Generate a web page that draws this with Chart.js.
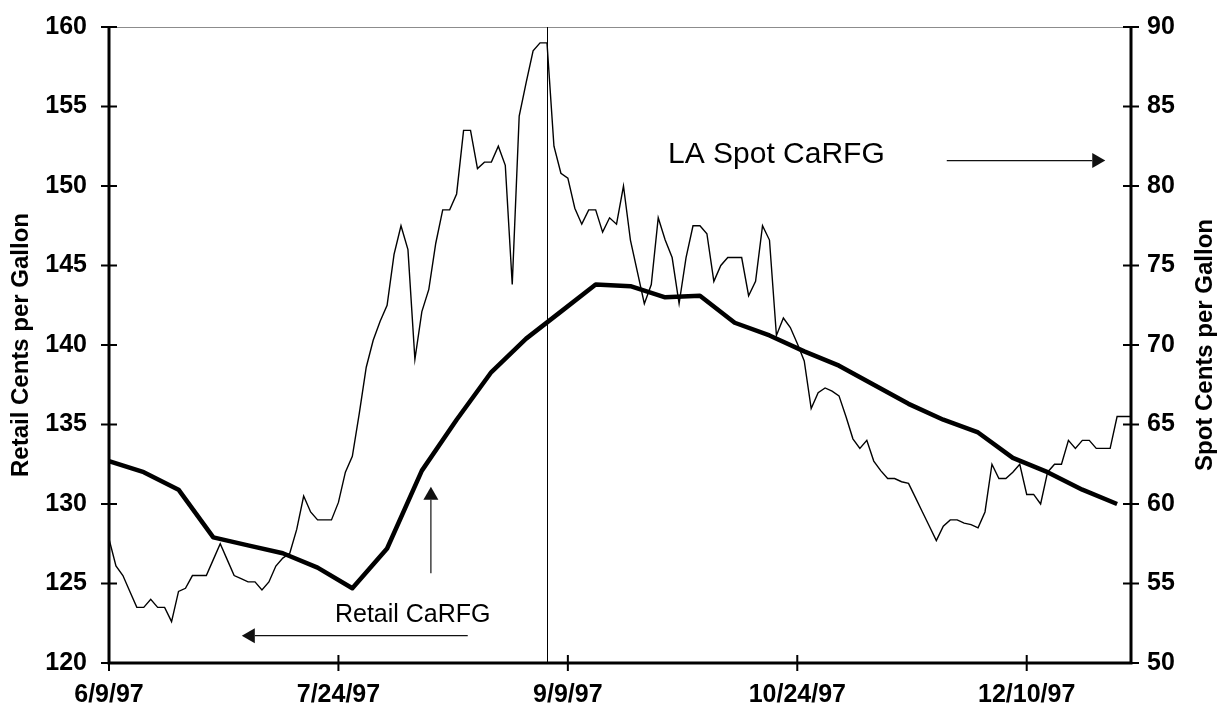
<!DOCTYPE html>
<html>
<head>
<meta charset="utf-8">
<title>CaRFG retail vs LA spot</title>
<script src="https://cdn.jsdelivr.net/npm/chart.js@4.4.0/dist/chart.umd.min.js"></script>
<style>
    html, body { margin: 0; padding: 0; background: #fff; }
    canvas { display: block; }
</style>
</head>
<body>
<canvas id="grafico" width="1222" height="713"></canvas>
<script>
// x axis = trading day index, 6/9/97 .. 12/31/97
const tickLabels = ['6/9/97', '7/24/97', '9/9/97', '10/24/97', '12/10/97'];
const tickIdx = [0, 33, 66, 99, 132];
const lastIdx = 147;

// LA spot CaRFG, cents per gallon (right axis), one value per trading day
const spotValues = [
    57.8, 56.1, 55.5, 54.5, 53.5, 53.5, 54.0, 53.5, 53.5, 52.6,
    54.5, 54.7, 55.5, 55.5, 55.5, 56.5, 57.5, 56.5, 55.5, 55.3,
    55.1, 55.1, 54.6, 55.1, 56.1, 56.6, 56.9, 58.4, 60.5, 59.5,
    59.0, 59.0, 59.0, 60.1, 62.0, 63.0, 65.7, 68.6, 70.3, 71.5,
    72.5, 75.7, 77.5, 76.0, 69.1, 72.1, 73.5, 76.4, 78.5, 78.5,
    79.5, 83.5, 83.5, 81.1, 81.5, 81.5, 82.5, 81.3, 73.8, 84.4,
    86.5, 88.5, 89.0, 89.0, 82.5, 80.8, 80.5, 78.6, 77.6, 78.5,
    78.5, 77.1, 78.0, 77.6, 80.0, 76.6, 74.6, 72.6, 73.8, 78.0,
    76.6, 75.5, 72.6, 75.5, 77.5, 77.5, 77.0, 74.0, 75.0, 75.5,
    75.5, 75.5, 73.1, 74.0, 77.5, 76.6, 70.6, 71.7, 71.1, 70.1,
    69.0, 66.0, 67.0, 67.3, 67.1, 66.8, 65.5, 64.1, 63.5, 64.0,
    62.7, 62.1, 61.6, 61.6, 61.4, 61.3, 60.4, 59.5, 58.6, 57.7,
    58.6, 59.0, 59.0, 58.8, 58.7, 58.5, 59.5, 62.5, 61.6, 61.6,
    62.0, 62.5, 60.6, 60.6, 60.0, 62.0, 62.5, 62.5, 64.0, 63.5,
    64.0, 64.0, 63.5, 63.5, 63.5, 65.5, 65.5, 65.5
];

// retail CaRFG, cents per gallon (left axis), weekly (Mondays)
const retailIdx = [
    0, 5, 10, 15, 20, 25, 30, 35, 40, 45,
    50, 55, 60, 65, 70, 75, 80, 85, 90, 95,
    100, 105, 110, 115, 120, 125, 130, 135, 140, 145
];
const retailValues = [
    132.7, 132.0, 130.9, 127.9, 127.4, 126.9, 126.0, 124.7, 127.2, 132.1,
    135.3, 138.3, 140.4, 142.1, 143.8, 143.7, 143.0, 143.1, 141.4, 140.6,
    139.6, 138.7, 137.5, 136.3, 135.3, 134.5, 132.9, 132.0, 130.9, 130.0
];

const markerIdx = 63; // vertical line

const FONT = "'Liberation Sans', Arial, sans-serif";

// text + arrows, in data units (x = day index, y on the named axis)
const notes = [
    { text: 'LA Spot CaRFG', x: 80.4, y: 81.45, axis: 'y2', size: 30 },
    { text: 'Retail CaRFG', x: 32.5, y: 122.58, axis: 'y', size: 25 }
];
const arrows = [
    { x1: 120.5, y1: 81.6, x2: 143.3, y2: 81.6, axis: 'y2' },
    { x1: 51.6, y1: 121.72, x2: 19.1, y2: 121.72, axis: 'y' },
    { x1: 46.3, y1: 125.64, x2: 46.3, y2: 131.09, axis: 'y' }
];

const spotData = spotValues.map(function (v, i) { return { x: i, y: v }; });
const retailData = retailIdx.map(function (d, i) { return { x: d, y: retailValues[i] }; });

function drawArrow(ctx, ax, ay, bx, by) {
    const ang = Math.atan2(by - ay, bx - ax);
    const head = 13, half = 7.5;
    ctx.beginPath();
    ctx.moveTo(ax, ay);
    ctx.lineTo(bx - Math.cos(ang) * head, by - Math.sin(ang) * head);
    ctx.stroke();
    ctx.beginPath();
    ctx.moveTo(bx, by);
    ctx.lineTo(bx - Math.cos(ang) * head - Math.sin(ang) * half, by - Math.sin(ang) * head + Math.cos(ang) * half);
    ctx.lineTo(bx - Math.cos(ang) * head + Math.sin(ang) * half, by - Math.sin(ang) * head - Math.cos(ang) * half);
    ctx.closePath();
    ctx.fill();
}

// the tick padding would otherwise push the plot top down
function fitVertical(width) {
    return function (s) {
        s.width = width;
        s.paddingTop = 0;
        s.paddingBottom = 0;
    };
}

const decor = {
    id: 'decor',
    beforeDatasetsDraw(chart) {
        const ctx = chart.ctx;
        const a = chart.chartArea;
        const xs = chart.scales.x;
        ctx.save();
        // top border
        ctx.strokeStyle = '#8c8c8c';
        ctx.lineWidth = 1;
        ctx.beginPath();
        ctx.moveTo(a.left, a.top + 0.5);
        ctx.lineTo(a.right, a.top + 0.5);
        ctx.stroke();
        // vertical marker
        const mx = Math.round(xs.getPixelForValue(markerIdx)) + 0.5;
        ctx.strokeStyle = '#000';
        ctx.beginPath();
        ctx.moveTo(mx, a.top);
        ctx.lineTo(mx, a.bottom);
        ctx.stroke();
        ctx.restore();
    },
    afterDraw(chart) {
        const ctx = chart.ctx;
        const a = chart.chartArea;
        const xs = chart.scales.x, ys = chart.scales.y, ys2 = chart.scales.y2;
        ctx.save();
        ctx.strokeStyle = '#000';
        ctx.fillStyle = '#000';

        // axis lines
        ctx.lineWidth = 3;
        ctx.beginPath();
        ctx.moveTo(a.left, a.top);
        ctx.lineTo(a.left, a.bottom);
        ctx.moveTo(a.right, a.top);
        ctx.lineTo(a.right, a.bottom);
        ctx.moveTo(a.left - 1.5, a.bottom);
        ctx.lineTo(a.right + 1.5, a.bottom);
        ctx.stroke();

        // crossing tick marks
        ctx.lineWidth = 2;
        ctx.beginPath();
        ys.ticks.forEach(function (t) {
            const py = ys.getPixelForValue(t.value);
            ctx.moveTo(a.left - 8, py);
            ctx.lineTo(a.left + 8, py);
        });
        ys2.ticks.forEach(function (t) {
            const py = ys2.getPixelForValue(t.value);
            ctx.moveTo(a.right - 8, py);
            ctx.lineTo(a.right + 8, py);
        });
        xs.ticks.forEach(function (t) {
            const px = xs.getPixelForValue(t.value);
            ctx.moveTo(px, a.bottom - 8);
            ctx.lineTo(px, a.bottom + 8);
        });
        ctx.stroke();

        // arrows
        ctx.lineWidth = 1.2;
        ctx.strokeStyle = '#111';
        ctx.fillStyle = '#111';
        arrows.forEach(function (ar) {
            const sc = chart.scales[ar.axis];
            drawArrow(ctx, xs.getPixelForValue(ar.x1), sc.getPixelForValue(ar.y1),
                xs.getPixelForValue(ar.x2), sc.getPixelForValue(ar.y2));
        });

        // labels
        ctx.fillStyle = '#000';
        ctx.textBaseline = 'alphabetic';
        ctx.textAlign = 'left';
        notes.forEach(function (n) {
            ctx.font = n.size + 'px ' + FONT;
            ctx.fillText(n.text, xs.getPixelForValue(n.x), chart.scales[n.axis].getPixelForValue(n.y));
        });

        // right axis title, reads bottom to top
        ctx.font = 'bold 24px ' + FONT;
        ctx.textAlign = 'center';
        ctx.textBaseline = 'middle';
        ctx.translate(1205, (a.top + a.bottom) / 2);
        ctx.rotate(-Math.PI / 2);
        ctx.fillText('Spot Cents per Gallon', 0, 0);
        ctx.restore();
    }
};

const ctx = document.getElementById('grafico').getContext('2d');
const grafico = new Chart(ctx, {
    type: 'line',
    data: {
        datasets: [
            {
                label: 'Retail CaRFG',
                data: retailData,
                yAxisID: 'y',
                borderColor: '#000',
                borderWidth: 4.5,
                pointRadius: 0,
                tension: 0,
                borderJoinStyle: 'round'
            },
            {
                label: 'LA Spot CaRFG',
                data: spotData,
                yAxisID: 'y2',
                borderColor: '#000',
                borderWidth: 1.4,
                pointRadius: 0,
                tension: 0
            }
        ]
    },
    options: {
        responsive: false,
        animation: false,
        devicePixelRatio: 1,
        layout: { padding: { top: 27, left: 0, right: 0, bottom: 0 } },
        plugins: {
            legend: { display: false },
            tooltip: { enabled: false }
        },
        scales: {
            x: {
                type: 'linear',
                min: 0,
                max: lastIdx,
                grid: { display: false, drawTicks: false },
                border: { display: false },
                afterBuildTicks: function (s) {
                    s.ticks = tickIdx.map(function (v) { return { value: v }; });
                },
                afterFit: function (s) { s.height = 50; },
                ticks: {
                    padding: 17,
                    maxRotation: 0,
                    color: '#000',
                    font: { family: FONT, size: 25, weight: 'bold' },
                    callback: function (value) {
                        const k = tickIdx.indexOf(value);
                        return k >= 0 ? tickLabels[k] : '';
                    }
                }
            },
            y: {
                position: 'left',
                min: 120,
                max: 160,
                grid: { display: false, drawTicks: false },
                border: { display: false },
                afterFit: fitVertical(109),
                ticks: {
                    stepSize: 5,
                    padding: 22,
                    color: '#000',
                    font: { family: FONT, size: 25, weight: 'bold' }
                },
                title: {
                    display: true,
                    text: 'Retail Cents per Gallon',
                    color: '#000',
                    padding: { top: 7, bottom: 0 },
                    font: { family: FONT, size: 24, weight: 'bold' }
                }
            },
            y2: {
                position: 'right',
                min: 50,
                max: 90,
                grid: { display: false, drawTicks: false },
                border: { display: false },
                afterFit: fitVertical(91),
                ticks: {
                    stepSize: 5,
                    padding: 16,
                    color: '#000',
                    font: { family: FONT, size: 25, weight: 'bold' }
                }
            }
        }
    },
    plugins: [decor]
});
</script>
</body>
</html>
